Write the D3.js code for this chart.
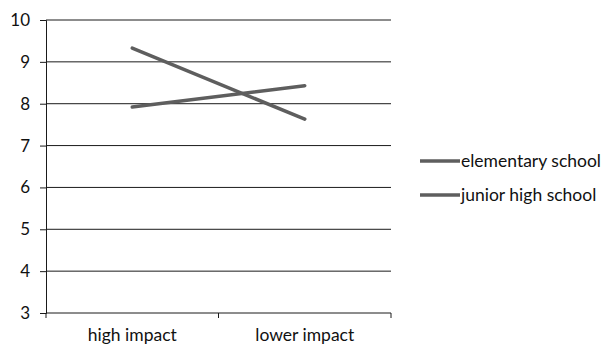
<!DOCTYPE html>
<html>
<head>
<meta charset="utf-8">
<script src="https://cdn.jsdelivr.net/npm/d3@7"></script>
<style>
  html, body { margin: 0; padding: 0; background: #fff; }
  svg { display: block; font-family: Lato, "Open Sans", sans-serif; }
</style>
</head>
<body>
<svg id="chart" width="602" height="345"></svg>
<script>
// Mean scores per impact condition
const categories = ["high impact", "lower impact"];
const seriesNames = ["elementary school", "junior high school"];
const elementary = [9.33, 7.63];
const juniorHigh = [7.92, 8.43];
const yTicks = [3, 4, 5, 6, 7, 8, 9, 10];

const series = [
  { name: seriesNames[0], values: elementary },
  { name: seriesNames[1], values: juniorHigh }
];

const svg = d3.select("#chart");
const margin = { left: 46, right: 211, top: 20, bottom: 32 };
const W = 602, H = 345;

const x = d3.scaleBand().domain(categories).range([margin.left, W - margin.right]);
const y = d3.scaleLinear().domain([3, 10]).range([H - margin.bottom, margin.top]);

const ink = "#1a1a1a";
const lineColor = "#5e5e5e";
const textColor = "#111";

// Horizontal gridlines
svg.append("g")
  .selectAll("line")
  .data(yTicks.filter(d => d > 3))
  .join("line")
  .attr("x1", margin.left).attr("x2", W - margin.right)
  .attr("y1", d => y(d)).attr("y2", d => y(d))
  .attr("stroke", ink).attr("stroke-width", 1);

// Y axis
const yAxis = svg.append("g")
  .attr("transform", `translate(${margin.left},0)`)
  .call(d3.axisLeft(y).tickValues(yTicks).tickFormat(d3.format("d")).tickSizeOuter(0).tickSize(6).tickPadding(10));
yAxis.select(".domain").attr("stroke", ink);
yAxis.selectAll(".tick line").attr("stroke", ink);
yAxis.selectAll(".tick text").attr("fill", textColor).style("font-size", "17px").style("font-family", "Lato, sans-serif");

// X axis with tick marks at category boundaries
const xAxis = svg.append("g")
  .attr("transform", `translate(0,${y(3)})`)
  .call(d3.axisBottom(x).tickSize(0).tickPadding(16));
xAxis.select(".domain").attr("stroke", ink).attr("d", `M${margin.left},0H${W - margin.right}`);
xAxis.selectAll(".tick text").attr("fill", textColor).style("font-size", "17.5px").style("font-family", "Lato, sans-serif");

const bounds = [margin.left, ...categories.map(c => x(c) + x.bandwidth())];
xAxis.append("g").selectAll("line")
  .data(bounds)
  .join("line")
  .attr("x1", d => d).attr("x2", d => d)
  .attr("y1", 0).attr("y2", 5)
  .attr("stroke", ink);

// Series lines
const line = d3.line()
  .x((d, i) => x(categories[i]) + x.bandwidth() / 2)
  .y(d => y(d));

svg.append("g")
  .selectAll("path")
  .data(series)
  .join("path")
  .attr("d", d => line(d.values))
  .attr("fill", "none")
  .attr("stroke", lineColor)
  .attr("stroke-width", 3.5)
  .attr("stroke-linecap", "round");

// Legend
const legend = svg.append("g").attr("transform", "translate(420,161)");
const items = legend.selectAll("g")
  .data(series)
  .join("g")
  .attr("transform", (d, i) => `translate(0,${i * 34})`);
items.append("line")
  .attr("x1", 0).attr("x2", 40)
  .attr("y1", 0).attr("y2", 0)
  .attr("stroke", lineColor).attr("stroke-width", 3.5);
items.append("text")
  .attr("x", 41).attr("y", 0)
  .attr("dy", "0.35em")
  .attr("fill", textColor)
  .style("font-size", "17.5px")
  .text(d => d.name);
</script>
</body>
</html>
